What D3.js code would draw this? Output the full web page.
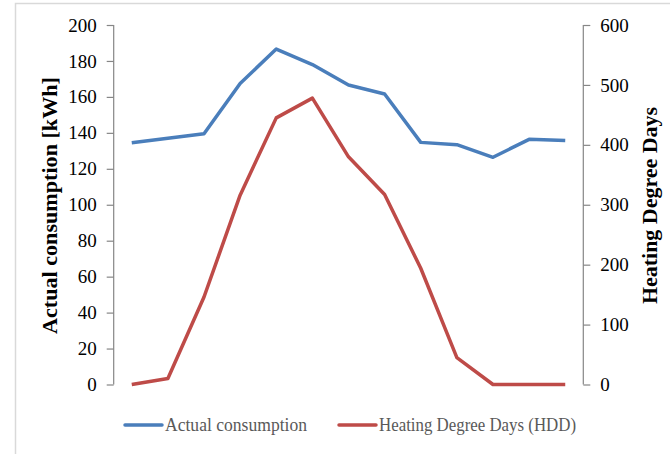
<!DOCTYPE html>
<html>
<head>
<meta charset="utf-8">
<script src="https://cdn.jsdelivr.net/npm/d3@7"></script>
<style>
  html, body { margin: 0; padding: 0; background: #fff; }
  svg { display: block; }
</style>
</head>
<body>
<svg id="chart" width="670" height="454"></svg>
<script>
// Monthly periods (not labelled on the axis)
const periods = ["1", "2", "3", "4", "5", "6", "7", "8", "9", "10", "11", "12", "13"];
// Actual consumption [kWh] – left axis
const consumption = [134.5, 137, 139.5, 167.5, 186.6, 178, 166.6, 161.6, 134.7, 133.4, 126.4, 136.4, 135.8];
// Heating Degree Days – right axis
const hdd = [0, 10, 146, 316, 445, 478, 380, 317, 194, 45, 0, 0, 0];
// Tick values
const leftTicks = [0, 20, 40, 60, 80, 100, 120, 140, 160, 180, 200];
const rightTicks = [0, 100, 200, 300, 400, 500, 600];

const svg = d3.select("#chart");
const font = "'Liberation Serif', 'DejaVu Serif', serif";
const plot = { left: 113.7, right: 583.3, top: 25, bottom: 384.5 };

// Chart-area border
svg.append("rect")
  .attr("x", 15.5).attr("y", 3.5)
  .attr("width", 700).attr("height", 500)
  .attr("fill", "none").attr("stroke", "#d9d9d9").attr("stroke-width", 1.5);

const x = d3.scalePoint().domain(periods).range([plot.left, plot.right]).padding(0.5);
const yL = d3.scaleLinear().domain([0, 200]).range([plot.bottom, plot.top]);
const yR = d3.scaleLinear().domain([0, 600]).range([plot.bottom, plot.top]);

const axisColor = "#868686";

const leftAxis = svg.append("g")
  .attr("transform", `translate(${plot.left},0)`)
  .call(d3.axisLeft(yL).tickValues(leftTicks).tickSize(7).tickPadding(10));
const rightAxis = svg.append("g")
  .attr("transform", `translate(${plot.right},0)`)
  .call(d3.axisRight(yR).tickValues(rightTicks).tickSize(7).tickPadding(10));

[leftAxis, rightAxis].forEach(g => {
  g.select(".domain").attr("stroke", axisColor).attr("stroke-width", 1.2)
    .attr("d", `M0,${plot.top}V${plot.bottom}`);
  g.selectAll(".tick line").attr("stroke", axisColor).attr("stroke-width", 1.2);
  g.selectAll(".tick text")
    .attr("fill", "#000")
    .style("font-family", font)
    .style("font-size", "19px");
});

// Axis titles
svg.append("text")
  .attr("transform", `translate(57,205.5) rotate(-90)`)
  .attr("text-anchor", "middle")
  .attr("textLength", 257).attr("lengthAdjust", "spacingAndGlyphs")
  .style("font-family", font).style("font-size", "20px").style("font-weight", "bold")
  .text("Actual consumption [kWh]");
svg.append("text")
  .attr("transform", `translate(657,205.5) rotate(-90)`)
  .attr("text-anchor", "middle")
  .attr("textLength", 197).attr("lengthAdjust", "spacingAndGlyphs")
  .style("font-family", font).style("font-size", "20px").style("font-weight", "bold")
  .text("Heating Degree Days");

// Series lines
const blue = "#4a7ebb", red = "#be4b48";
const lineL = d3.line().x((d, i) => x(periods[i])).y(d => yL(d));
const lineR = d3.line().x((d, i) => x(periods[i])).y(d => yR(d));

svg.append("path").datum(consumption)
  .attr("d", lineL).attr("fill", "none")
  .attr("stroke", blue).attr("stroke-width", 3.5).attr("stroke-linejoin", "round");
svg.append("path").datum(hdd)
  .attr("d", lineR).attr("fill", "none")
  .attr("stroke", red).attr("stroke-width", 3.5).attr("stroke-linejoin", "round");

// Legend
const legend = [
  { label: "Actual consumption", color: blue, x: 125, w: 142 },
  { label: "Heating Degree Days (HDD)", color: red, x: 339, w: 197 }
];
const lg = svg.append("g").selectAll("g").data(legend).join("g")
  .attr("transform", d => `translate(${d.x},425)`);
lg.append("line")
  .attr("x1", 0).attr("x2", 37).attr("y1", 0).attr("y2", 0)
  .attr("stroke", d => d.color).attr("stroke-width", 3.5).attr("stroke-linecap", "round");
lg.append("text")
  .attr("x", 40).attr("y", 6)
  .attr("fill", "#595959")
  .attr("textLength", d => d.w).attr("lengthAdjust", "spacingAndGlyphs")
  .style("font-family", font).style("font-size", "18px")
  .text(d => d.label);
</script>
</body>
</html>
